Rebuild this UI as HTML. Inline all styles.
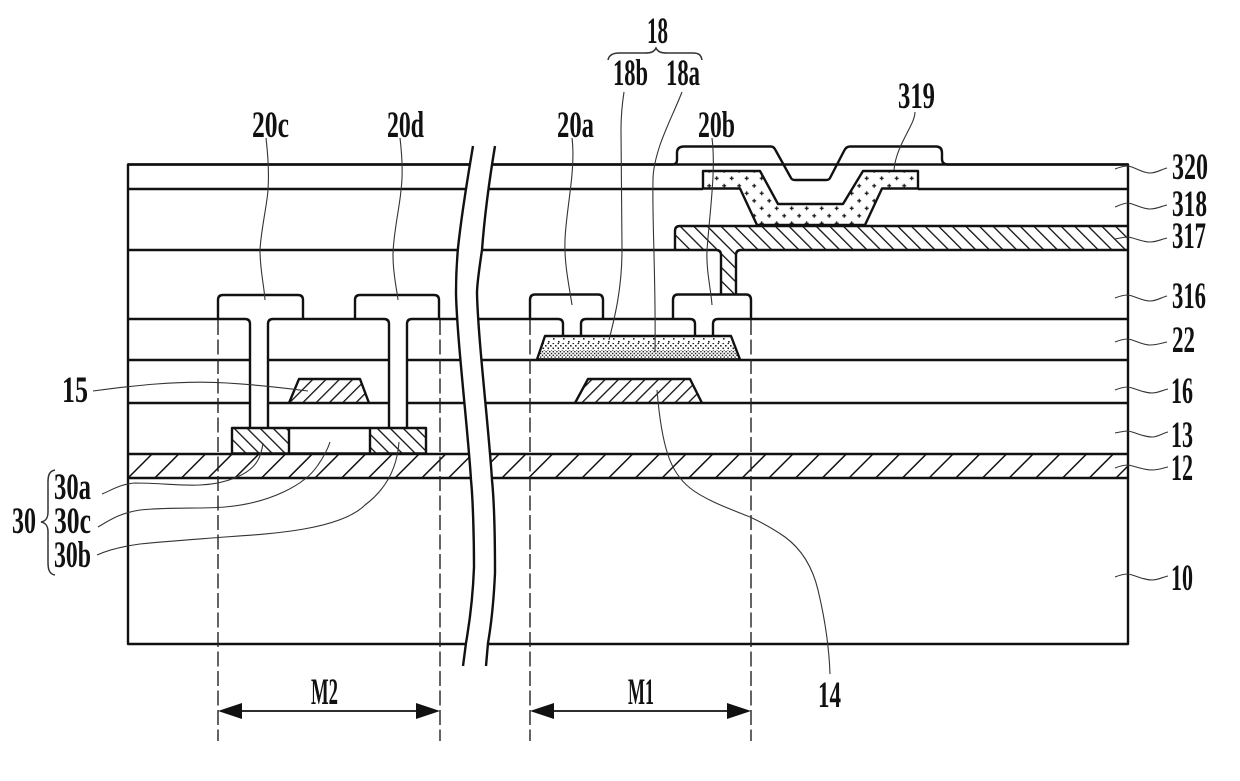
<!DOCTYPE html>
<html><head><meta charset="utf-8"><style>
html,body{margin:0;padding:0;background:#fff}
svg{display:block}
text{font-family:"Liberation Serif",serif;font-weight:bold;font-size:37px;fill:#111}
.m{fill:none;stroke:#111;stroke-width:2.4;stroke-linejoin:round}
.l{fill:none;stroke:#333;stroke-width:1.1}
.d{fill:none;stroke:#222;stroke-width:1.4;stroke-dasharray:15 4.5}
</style></head><body>
<svg width="1240" height="781" viewBox="0 0 1240 781" xmlns="http://www.w3.org/2000/svg">
<defs>
<pattern id="h12" width="18.88" height="18.88" patternUnits="userSpaceOnUse" patternTransform="translate(17.6 0) rotate(45)"><rect x="0" y="0" width="1.5" height="18.88" fill="#111"/></pattern>
<pattern id="h317" width="9.62" height="9.62" patternUnits="userSpaceOnUse" patternTransform="translate(4 0) rotate(-45)"><rect x="0" y="0" width="1.3" height="9.62" fill="#111"/></pattern>
<pattern id="h30" width="9.2" height="9.2" patternUnits="userSpaceOnUse" patternTransform="rotate(-45)"><rect x="0" y="0" width="1.3" height="9.2" fill="#111"/></pattern>
<pattern id="h15" width="9.4" height="9.4" patternUnits="userSpaceOnUse" patternTransform="rotate(45)"><rect x="0" y="0" width="1.3" height="9.4" fill="#111"/></pattern>
<pattern id="plus" width="15" height="15" patternUnits="userSpaceOnUse" patternTransform="translate(11.7 13.3)"><path d="M0,0H2M0,0V2M13,0H15M15,0V2M0,13V15M0,15H2M13,15H15M15,13V15M5.5,7.5H9.5M7.5,5.5V9.5" stroke="#111" stroke-width="1.2"/></pattern>
<pattern id="sp" width="10" height="6" patternUnits="userSpaceOnUse" patternTransform="translate(2 338)"><rect x="1" y="0" width="1.6" height="1.6" fill="#222"/><rect x="6" y="3" width="1.6" height="1.6" fill="#222"/></pattern>
<pattern id="md" width="5" height="5" patternUnits="userSpaceOnUse"><rect width="1.6" height="1.6" fill="#222"/><rect x="2.5" y="2.5" width="1.6" height="1.6" fill="#222"/></pattern>
<pattern id="dn" width="3.6" height="3.6" patternUnits="userSpaceOnUse"><rect width="1.4" height="1.4" fill="#222"/><rect x="1.8" y="1.8" width="1.4" height="1.4" fill="#222"/></pattern>
</defs>
<rect width="1240" height="781" fill="#fff"/>

<!-- hatches -->
<rect x="128" y="454" width="1000" height="24" fill="url(#h12)"/>
<path d="M675,250V231Q675,226 680,226H1128V250H741Q736,250 736,255V294H721V255Q721,250 716,250Z" fill="url(#h317)"/>
<rect x="232" y="428" width="57" height="25" fill="url(#h30)"/>
<rect x="370" y="428" width="56" height="25" fill="url(#h30)"/>
<path d="M289,403L299,379H360L369,403Z" fill="url(#h15)"/>
<path d="M575,403L588,379H690L702,403Z" fill="url(#h15)"/>
<path d="M703,171H760L778,204H843L863,171H918V188.5H882L865,225H757L740,188.5H703Z" fill="url(#plus)"/>
<path d="M545,336H731L733.7,343H542.7Z" fill="url(#sp)"/>
<path d="M542.7,343H733.7L736.3,350H540.3Z" fill="url(#md)"/>
<path d="M540.3,350H736.3L740,360H537Z" fill="url(#dn)"/>

<!-- structure -->
<rect class="m" x="128" y="164.5" width="1000" height="479.5"/>
<path class="m" d="M128,164.5H672Q677,164.5 677,160V153Q677,146.5 684,146.5H771Q774,146.5 776,151L791,178Q792,180 795,180H826Q829,180 830,178L844,151Q846,146.5 850,146.5H936Q942,146.5 942,153V159Q942,164.5 948,164.5H1128"/>
<path class="m" d="M128,189H703M918,189H1128"/>
<path class="m" d="M703,171H760L778,204H843L863,171H918V188.5H882L865,225H757L740,188.5H703Z"/>
<path class="m" d="M128,250H716Q721,250 721,255V294M736,294V255Q736,250 741,250H1128M675,250V231Q675,226 680,226H1128"/>
<path class="m" d="M128,319H245Q250,319 250,324V428M268,428V324Q268,319 273,319H384Q389,319 389,324V428M407,428V324Q407,319 412,319H558Q563,319 563,324V336M581,336V324Q581,319 586,319H690Q695,319 695,324V336M713,336V324Q713,319 718,319H1128"/>
<path class="m" d="M218,319V300Q218,295 223,295H298Q303,295 303,300V319"/>
<path class="m" d="M355,319V300Q355,295 360,295H434Q439,295 439,300V319"/>
<path class="m" d="M530,319V300Q530,294.5 535,294.5H598Q603,294.5 603,300V319"/>
<path class="m" d="M673,319V300Q673,294.5 678,294.5H746Q751,294.5 751,300V319"/>
<path class="m" d="M128,360H250M268,360H389M407,360H1128"/>
<path class="m" d="M128,403H250M268,403H389M407,403H1128"/>
<path class="m" d="M128,454H1128M128,478H1128"/>
<path class="m" d="M545,336H731L740,359.5H537Z"/>
<rect class="m" x="232" y="428" width="194" height="25.5"/>
<path class="m" d="M289,428V453M370,428V453"/>
<path class="m" d="M289,403L299,379H360L369,403"/>
<path class="m" d="M575,403L588,379H690L702,403"/>

<!-- break -->
<path d="M473,146C469,170 462,210 458,248C456,270 456,285 456,293C457,340 468,430 471,480C473,500 474,540 474,567C473,595 470,620 466,643L463,666L486,666L488,643C492,620 494,595 495,573C495,540 494,500 492,480C489,430 478,340 477,293C477,285 479,270 482,250C485,210 491,170 495,146Z" fill="#fff" stroke="none"/>
<path class="m" d="M473,146C469,170 462,210 458,248C456,270 456,285 456,293C457,340 468,430 471,480C473,500 474,540 474,567C473,595 470,620 466,643L463,666"/>
<path class="m" d="M495,146C491,170 485,210 482,250C479,270 477,285 477,293C478,340 489,430 492,480C494,500 495,540 495,573C494,595 492,620 488,643L486,666"/>

<!-- dashed -->
<path class="d" d="M218,320V741M440,320V741M530,320V741M751,320V741"/>

<!-- dimension -->
<path d="M240,711H418" fill="none" stroke="#111" stroke-width="1.8"/>
<path d="M218,711L242,703V719Z M440,711L416,703V719Z" fill="#111"/>
<path d="M552,711H729" fill="none" stroke="#111" stroke-width="1.8"/>
<path d="M530,711L554,703V719Z M751,711L727,703V719Z" fill="#111"/>

<!-- leaders -->
<path class="l" d="M266,138C268,155 269,175 268,190C267,205 261,230 260,250C260,270 264,285 265,300"/>
<path class="l" d="M400,138C402,155 403,175 401,190C400,205 393,235 393,255C393,275 397,290 398,300"/>
<path class="l" d="M572,138C576,170 566,210 565,240C564,265 570,290 572,305"/>
<path class="l" d="M712,138C716,170 710,210 707,250C706,270 711,290 712,305"/>
<path class="l" d="M624,92C622,105 621,120 621,130C621,170 622,210 622,250C622,290 614,320 609,340"/>
<path class="l" d="M682,92C675,110 667,125 660,145C655,160 653,170 653,180C652,220 656,280 655,352"/>
<path class="l" d="M915,112C915,125 896,145 894,170"/>
<path class="l" d="M657,390C659,415 663,440 668,455C673,470 680,480 690,488C705,500 730,509 750,517C765,524 775,530 785,537C800,548 812,565 818,590C824,615 829,645 830,674"/>
<path class="l" d="M93,391C130,386 180,380 227,383C260,385 285,388 308,391"/>
<path class="l" d="M102,494C110,491 120,484 135,483C160,483 180,486 200,485C225,484 250,475 258,460C261,455 262,450 263,443"/>
<path class="l" d="M98,527C110,520 120,513 140,510C170,507 200,509 225,507C270,503 305,485 318,465C325,455 328,448 330,442"/>
<path class="l" d="M97,555C110,549 125,546 140,544C170,541 200,539 225,537C270,534 340,530 365,505C385,490 397,470 399,442"/>
<path class="l" d="M1115,169C1120,167 1124,166 1128,166C1135,167 1142,173 1150,173C1157,173 1162,169 1167,168"/>
<path class="l" d="M1115,207C1120,205 1124,203 1128,203C1135,204 1142,209 1150,209C1157,209 1162,206 1167,205"/>
<path class="l" d="M1115,239C1120,238 1124,237 1128,237C1135,238 1142,242 1150,242C1157,242 1162,239 1167,238"/>
<path class="l" d="M1115,298C1120,296 1124,295 1128,295C1135,296 1142,301 1150,301C1157,301 1162,297 1167,296"/>
<path class="l" d="M1115,342C1120,340 1124,339 1128,339C1135,340 1142,345 1150,345C1157,345 1162,343 1167,342"/>
<path class="l" d="M1115,390C1120,388 1124,387 1128,387C1135,388 1143,393 1152,393C1158,393 1163,390 1168,389"/>
<path class="l" d="M1115,433C1120,432 1124,431 1128,431C1135,432 1143,437 1152,437C1158,437 1163,433 1168,432"/>
<path class="l" d="M1115,468C1120,466 1124,465 1128,465C1135,466 1143,470 1152,470C1158,470 1163,468 1168,467"/>
<path class="l" d="M1115,577C1120,575 1124,574 1128,574C1135,575 1143,580 1152,580C1158,580 1163,577 1168,576"/>

<!-- braces -->
<path class="l" style="stroke-width:1.5" d="M55,470C49,471 48,476 48,482V512C48,518 46,521 41,522C46,523 48,526 48,532V562C48,569 49,574 55,575"/>
<path class="l" style="stroke-width:1.5" d="M608,60C609,55 613,53 619,53H645C651,53 654,52 656,48C658,52 661,53 667,53H693C699,53 701,55 702,60"/>

<!-- labels -->
<text x="647" y="43" textLength="21" lengthAdjust="spacingAndGlyphs">18</text>
<text x="613" y="85" textLength="35" lengthAdjust="spacingAndGlyphs">18b</text>
<text x="666" y="85" textLength="34" lengthAdjust="spacingAndGlyphs">18a</text>
<text x="898" y="108" textLength="37" lengthAdjust="spacingAndGlyphs">319</text>
<text x="252" y="137" textLength="37" lengthAdjust="spacingAndGlyphs">20c</text>
<text x="387" y="137" textLength="37" lengthAdjust="spacingAndGlyphs">20d</text>
<text x="557" y="137" textLength="37" lengthAdjust="spacingAndGlyphs">20a</text>
<text x="698" y="137" textLength="37" lengthAdjust="spacingAndGlyphs">20b</text>
<text x="1172" y="179" textLength="36" lengthAdjust="spacingAndGlyphs">320</text>
<text x="1172" y="216" textLength="35" lengthAdjust="spacingAndGlyphs">318</text>
<text x="1172" y="248" textLength="34" lengthAdjust="spacingAndGlyphs">317</text>
<text x="1172" y="308" textLength="34" lengthAdjust="spacingAndGlyphs">316</text>
<text x="1172" y="352" textLength="23" lengthAdjust="spacingAndGlyphs">22</text>
<text x="1171" y="403" textLength="22" lengthAdjust="spacingAndGlyphs">16</text>
<text x="1171" y="447" textLength="22" lengthAdjust="spacingAndGlyphs">13</text>
<text x="1171" y="480" textLength="22" lengthAdjust="spacingAndGlyphs">12</text>
<text x="1171" y="590" textLength="22" lengthAdjust="spacingAndGlyphs">10</text>
<text x="62" y="402" textLength="26" lengthAdjust="spacingAndGlyphs">15</text>
<text x="54" y="499" textLength="37" lengthAdjust="spacingAndGlyphs">30a</text>
<text x="54" y="533" textLength="37" lengthAdjust="spacingAndGlyphs">30c</text>
<text x="54" y="567" textLength="37" lengthAdjust="spacingAndGlyphs">30b</text>
<text x="12" y="533" textLength="24" lengthAdjust="spacingAndGlyphs">30</text>
<text x="818" y="707" textLength="23" lengthAdjust="spacingAndGlyphs">14</text>
<text x="628" y="704" textLength="26" lengthAdjust="spacingAndGlyphs">M1</text>
<text x="311" y="704" textLength="27" lengthAdjust="spacingAndGlyphs">M2</text>
</svg>
</body></html>
